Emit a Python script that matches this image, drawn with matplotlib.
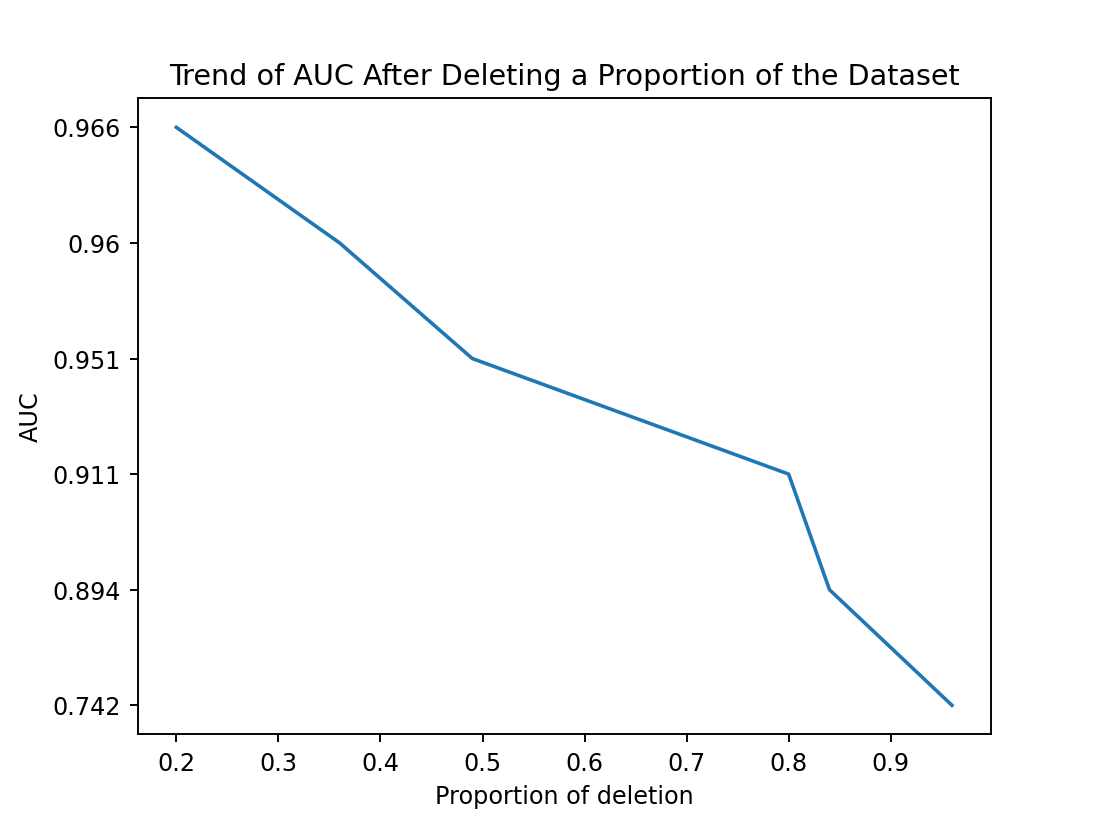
import matplotlib
matplotlib.use('Agg')
import matplotlib.pyplot as plt

# proportion deleted and AUC (AUC kept as strings -> categorical y axis)
proportion = [0.96, 0.84, 0.8, 0.49, 0.36, 0.2]
auc = ['0.742', '0.894', '0.911', '0.951', '0.96', '0.966']

plt.figure(figsize=(6.4, 4.8))
plt.plot(proportion, auc)
plt.title('Trend of AUC After Deleting a Proportion of the Dataset')
plt.xlabel('Proportion of deletion')
plt.ylabel('AUC')
plt.savefig('out.png', dpi=172)
